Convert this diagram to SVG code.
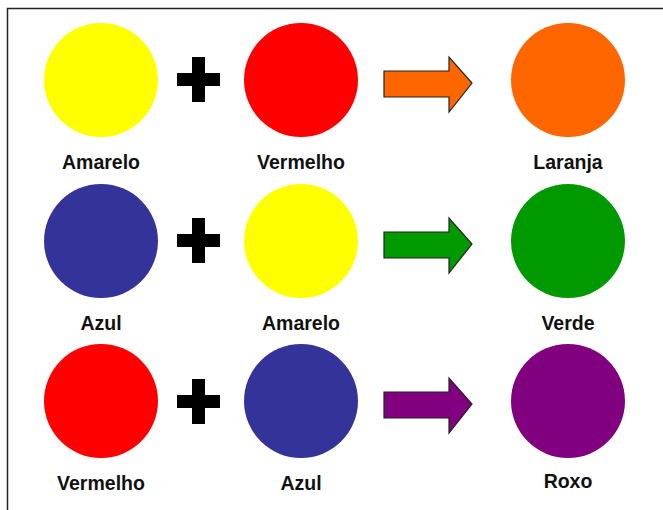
<svg xmlns="http://www.w3.org/2000/svg" width="663" height="510" viewBox="0 0 663 510">
<style>
.lbl{font-family:"Liberation Sans",Arial,sans-serif;font-weight:bold;font-size:19.5px;fill:#111;text-anchor:middle}
.arr{stroke:#222;stroke-width:1.2;stroke-linejoin:miter}
.plus{fill:#000}
</style>
<defs>
<path id="plusShape" d="M-6.5,-22.5 h13 v16 h15 v13 h-15 v16 h-13 v-16 h-15 v-13 h15 z"/>
<path id="arrowShape" d="M384,-12 h65 v-14 l23,26 l-23,29 v-15 h-65 z"/>
</defs>
<rect x="0" y="0" width="663" height="510" fill="#fff"/>
<path d="M7.5,510 V8.5 H663" fill="none" stroke="#222" stroke-width="1.5"/>

<g id="row1">
<g id="amarelo1"><circle cx="101" cy="80" r="57" fill="#FFFF00"/><text class="lbl" x="101" y="169">Amarelo</text></g>
<g id="plus1"><use href="#plusShape" class="plus" transform="translate(198.5,79.5)"/></g>
<g id="vermelho1"><circle cx="301" cy="80" r="57" fill="#FF0000"/><text class="lbl" x="301" y="169">Vermelho</text></g>
<g id="laranja"><circle cx="568" cy="80" r="57" fill="#FF6600"/><text class="lbl" x="568" y="169">Laranja</text></g>
</g>

<g id="row2">
<g id="azul1"><circle cx="101" cy="241" r="57" fill="#333399"/><text class="lbl" x="101" y="330">Azul</text></g>
<g id="plus2"><use href="#plusShape" class="plus" transform="translate(198.5,240.5)"/></g>
<g id="amarelo2"><circle cx="301" cy="241" r="57" fill="#FFFF00"/><text class="lbl" x="301" y="330">Amarelo</text></g>
<g id="verde"><circle cx="568" cy="241" r="57" fill="#009900"/><text class="lbl" x="568" y="330">Verde</text></g>
</g>

<g id="row3">
<g id="vermelho2"><circle cx="101" cy="401" r="57" fill="#FF0000"/><text class="lbl" x="101" y="490">Vermelho</text></g>
<g id="plus3"><use href="#plusShape" class="plus" transform="translate(198.5,401.5)"/></g>
<g id="azul2"><circle cx="301" cy="401" r="57" fill="#333399"/><text class="lbl" x="301" y="490">Azul</text></g>
<g id="roxo"><circle cx="568" cy="401" r="57" fill="#800080"/><text class="lbl" x="568" y="488">Roxo</text></g>
</g>

<g id="connectors">
<use href="#arrowShape" class="arr" fill="#FF6600" transform="translate(0,83)"/>
<use href="#arrowShape" class="arr" fill="#009900" transform="translate(0,244)"/>
<use href="#arrowShape" class="arr" fill="#800080" transform="translate(0,404)"/>
</g>
</svg>
